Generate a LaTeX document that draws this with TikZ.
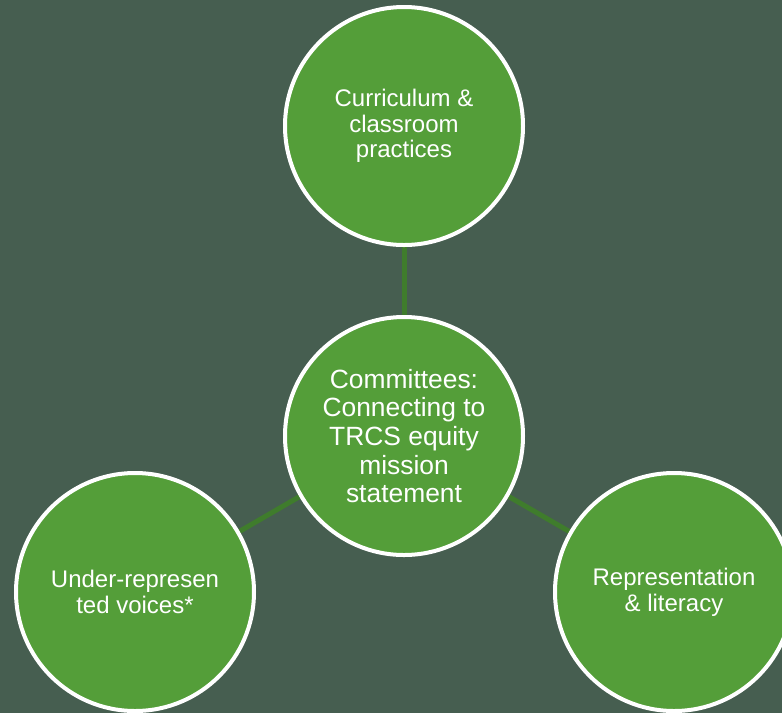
\documentclass[tikz,border=0pt]{standalone}
\usepackage{fontspec}
\setmainfont{Liberation Sans}
\definecolor{bgcol}{RGB}{70,94,80}
\definecolor{leaf}{RGB}{84,158,57}
\definecolor{stem}{RGB}{63,124,44}
\pgfdeclarelayer{bg}
\pgfdeclarelayer{links}
\pgfsetlayers{bg,links,main}
\begin{document}
\begin{tikzpicture}[x=1pt,y=-1pt,
  bubble/.style={circle, draw=white, line width=4pt, fill=leaf,
    minimum size=238pt, inner sep=0pt, text=white, align=center},
  outertext/.style={font=\fontsize{24}{25.6}\selectfont},
  hubtext/.style={font=\fontsize{26.4}{28.7}\selectfont},
  link/.style={draw=stem, line width=5pt}]
\begin{pgfonlayer}{bg}
  \fill[bgcol] (0,0) rectangle (782,713);
\end{pgfonlayer}
\useasboundingbox (0,0) rectangle (782,713);

\node[bubble, hubtext] (hub) at (404,436)
  {Committees:\\Connecting to\\TRCS equity\\mission\\statement};
\node[bubble, outertext] (top) at (404,126)
  {Curriculum \&\\classroom\\practices};
\node[bubble, outertext] (left) at (135,592)
  {Under-represen\\ted voices*};
\node[bubble, outertext] (right) at (674,592)
  {Representation\\\& literacy};

\begin{pgfonlayer}{links}
  \draw[link] (hub) -- (top);
  \draw[link] (hub) -- (left);
  \draw[link] (hub) -- (right);
\end{pgfonlayer}
\end{tikzpicture}
\end{document}
